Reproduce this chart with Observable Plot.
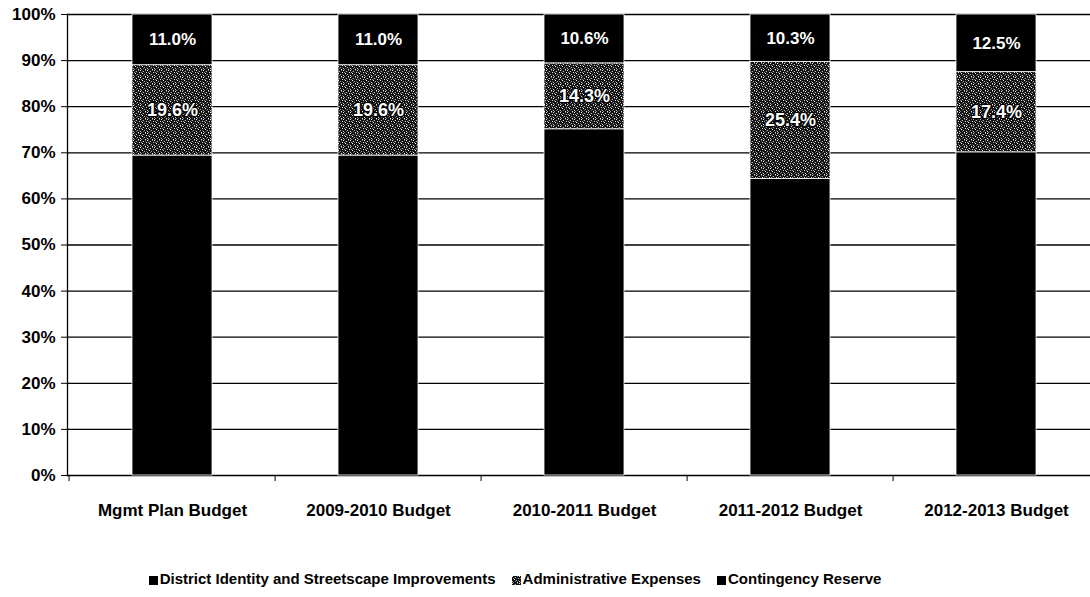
<!DOCTYPE html>
<html>
<head>
<meta charset="utf-8">
<script src="https://cdn.jsdelivr.net/npm/d3@7"></script>
<script src="https://cdn.jsdelivr.net/npm/@observablehq/plot@0.6"></script>
<style>
  html, body { margin: 0; padding: 0; background: #fff; overflow: hidden; }
  #wrap { width: 1090px; overflow: hidden; }
  #wrap svg { max-width: none !important; }
  #legend { width: 1030px; text-align: center; margin-top: 40px;
    font-family: 'Liberation Sans', Arial, sans-serif;
    font-weight: bold; font-size: 15px; color: #000; }
  #legend span.item { margin: 0 8px; white-space: nowrap; }
  #legend svg { vertical-align: -1px; margin-right: 2px; }
</style>
</head>
<body>
<div id="wrap"></div>
<div id="legend"></div>
<script>
const categories = ["Mgmt Plan Budget", "2009-2010 Budget", "2010-2011 Budget", "2011-2012 Budget", "2012-2013 Budget"];
const seriesNames = ["District Identity and Streetscape Improvements", "Administrative Expenses", "Contingency Reserve"];
const district = [69.4, 69.4, 75.1, 64.3, 70.1];
const admin = [19.6, 19.6, 14.3, 25.4, 17.4];
const contingency = [11.0, 11.0, 10.6, 10.3, 12.5];
const yTicks = [0, 10, 20, 30, 40, 50, 60, 70, 80, 90, 100];

const seriesValues = [district, admin, contingency];
const rows = [];
const labels = [];
categories.forEach((c, i) => {
  let base = 0;
  seriesValues.forEach((vals, s) => {
    const v = vals[i];
    rows.push({category: c, series: seriesNames[s], value: v});
    if (s > 0) labels.push({category: c, series: seriesNames[s], mid: base + v / 2, text: v.toFixed(1) + "%"});
    base += v;
  });
});

const width = 1101, marginLeft = 67;
const step = (width - marginLeft) / categories.length;

const chart = Plot.plot({
  width: width,
  height: 530,
  marginLeft: marginLeft,
  marginRight: 0,
  marginTop: 14,
  marginBottom: 55,
  style: {fontFamily: "'Liberation Sans',Arial,sans-serif", fontWeight: "bold", fontSize: "16px", color: "#000", background: "#fff", overflow: "visible"},
  x: {domain: categories, paddingInner: 0.61, paddingOuter: 0.305, label: null},
  y: {domain: [0, 100], label: null},
  color: {domain: seriesNames, range: ["#000", "url(#dither)", "#000"]},
  marks: [
    Plot.ruleY(yTicks, {stroke: "#000", strokeWidth: 1.3}),
    Plot.barY(rows, {x: "category", y: "value", fill: "series", stroke: "#fff", strokeWidth: 0.8}),
    Plot.text(labels.filter(d => d.series === seriesNames[2]), {x: "category", y: "mid", text: "text", fill: "#fff", fontSize: 17}),
    Plot.text(labels.filter(d => d.series === seriesNames[1]), {x: "category", y: "mid", text: "text", fill: "#fff", stroke: "#000", strokeWidth: 2.5, paintOrder: "stroke", fontSize: 18}),
    Plot.axisY({ticks: yTicks, tickFormat: d => d + "%", tickSize: 6, tickPadding: 6, fontSize: 17, stroke: "#000"}),
    Plot.ruleX(categories, {x: d => d, y1: 0, y2: 0, dx: -step / 2, insetBottom: -6, stroke: "#000"}),
    Plot.axisX({tickSize: 0, tickPadding: 28, fontSize: 17}),
    Plot.frame({anchor: "left", stroke: "#000", strokeWidth: 1.3})
  ]
});

// dithered pattern definition for the Administrative segment
function addPattern(svg, id) {
  const ns = "http://www.w3.org/2000/svg";
  const defs = document.createElementNS(ns, "defs");
  const pat = document.createElementNS(ns, "pattern");
  pat.setAttribute("id", id);
  pat.setAttribute("width", 7);
  pat.setAttribute("height", 7);
  pat.setAttribute("patternUnits", "userSpaceOnUse");
  const bg = document.createElementNS(ns, "rect");
  bg.setAttribute("width", 7); bg.setAttribute("height", 7); bg.setAttribute("fill", "#111");
  pat.appendChild(bg);
  const px = [[0,0,"#eee"],[3,1,"#bbb"],[5,0,"#777"],[1,2,"#999"],[6,2,"#ddd"],[2,3,"#fff"],[4,4,"#aaa"],[0,5,"#ccc"],[3,5,"#666"],[5,6,"#eee"],[1,6,"#888"],[6,4,"#555"],[2,1,"#444"],[4,2,"#333"]];
  px.forEach(([x, y, c]) => {
    const r = document.createElementNS(ns, "rect");
    r.setAttribute("x", x); r.setAttribute("y", y); r.setAttribute("width", 1); r.setAttribute("height", 1); r.setAttribute("fill", c);
    pat.appendChild(r);
  });
  defs.appendChild(pat);
  svg.insertBefore(defs, svg.firstChild);
}
addPattern(chart, "dither");
document.getElementById("wrap").appendChild(chart);

// legend
const legend = document.getElementById("legend");
seriesNames.forEach((name, i) => {
  const item = document.createElement("span");
  item.className = "item";
  const fill = i === 1 ? "url(#dither)" : "#000";
  item.innerHTML = `<svg width="9" height="9"><rect width="9" height="9" fill="${fill}"/></svg>${name}`;
  legend.appendChild(item);
});
</script>
</body>
</html>
